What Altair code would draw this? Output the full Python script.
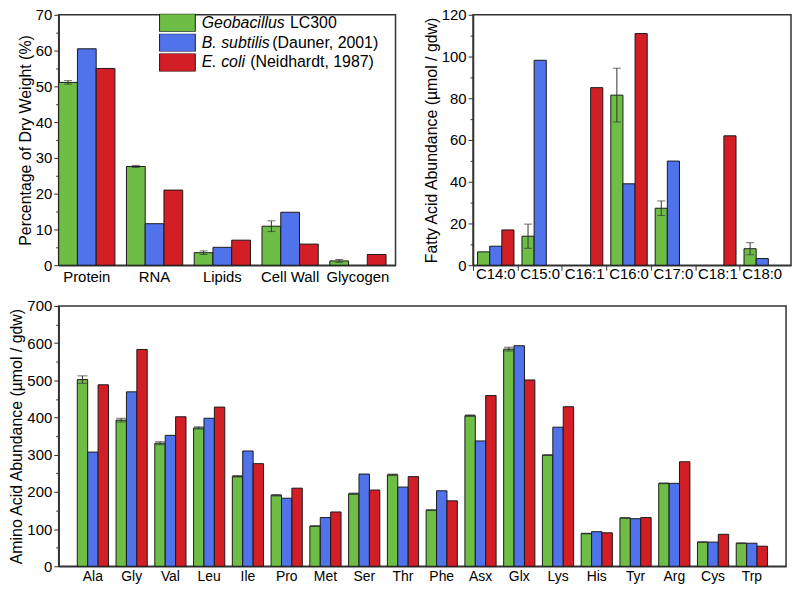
import altair as alt
import pandas as pd

FONT = "Liberation Sans"
GENUS = ["Geobacillus", "B. subtilis", "E. coli"]
SUFFIX = ["LC300", "(Dauner, 2001)", "(Neidhardt, 1987)"]
COLORS = ["#6ebe46", "#5073eb", "#d21e24"]

# ---- Cell composition (% dry weight) ----
comp_cats = ["Protein", "RNA", "Lipids", "Cell Wall", "Glycogen"]
geo_comp = [51.1, 27.6, 3.5, 10.9, 1.2]
geo_comp_err = [0.5, 0.3, 0.5, 1.5, 0.4]
bsub_comp = [60.5, 11.6, 5.0, 14.8, None]
ecoli_comp = [55.0, 21.0, 7.0, 5.9, 3.0]

# ---- Fatty acids (umol / gdw) ----
fa_cats = ["C14:0", "C15:0", "C16:1", "C16:0", "C17:0", "C18:1", "C18:0"]
geo_fa = [6.4, 13.9, None, 81.5, 27.3, None, 7.9]
geo_fa_err = [0, 5.8, 0, 12.9, 3.5, 0, 2.9]
bsub_fa = [9.1, 98.2, None, 39.0, 49.9, None, 3.2]
ecoli_fa = [16.9, None, 85.1, 111.0, None, 62.0, None]

# ---- Amino acids (umol / gdw) ----
aa_cats = ["Ala", "Gly", "Val", "Leu", "Ile", "Pro", "Met", "Ser", "Thr",
           "Phe", "Asx", "Glx", "Lys", "His", "Tyr", "Arg", "Cys", "Trp"]
geo_aa = [502, 393, 331, 372, 242, 191, 108, 195, 246, 151, 405, 584, 299, 88, 130, 223, 65, 62]
geo_aa_err = [10, 5, 4, 3, 2, 2, 1, 2, 2, 1, 2, 5, 1, 1, 1, 1, 1, 1]
bsub_aa = [307, 469, 352, 398, 310, 183, 131, 248, 213, 203, 337, 593, 374, 93, 128, 223, 65, 62]
ecoli_aa = [488, 583, 402, 428, 276, 210, 146, 205, 241, 176, 459, 501, 429, 90, 131, 281, 86, 54]

RECT = "M-1,-0.5L1,-0.5L1,0.5L-1,0.5Z"
NB = "\u00a0"
ZW = "\u200b"
pad_counts = {"LC300": 20, "(Dauner, 2001)": 16, "(Neidhardt, 1987)": 11}
suffix_expr = " : ".join(
    f"datum.label == '{k}' ? '{ZW}{NB * n}{k}'" for k, n in pad_counts.items()
) + " : datum.label"


def long_df(cats, geo, geo_err, bsub, ecoli):
    rows = []
    for i, c in enumerate(cats):
        for s, vals in enumerate([geo, bsub, ecoli]):
            v = vals[i]
            if v is None:
                continue
            e = geo_err[i] if s == 0 else 0
            rows.append(dict(cat=c, series=GENUS[s], suffix=SUFFIX[s], value=v, err=e or 0))
    return pd.DataFrame(rows)


def panel(df, cats, ymax, ystep, ytitle, width, height, pi, po, align,
          lab_size, lab_pad, cap, boundary=False, legend=False):
    half = ystep // 2
    yvals = list(range(0, ymax + 1, half))
    yaxis = alt.Axis(
        values=yvals, title=ytitle, grid=False,
        labelExpr=f"datum.value % {ystep} == 0 ? datum.label : ''",
        tickSize={"condition": {"test": f"datum.value % {ystep} == 0", "value": 5}, "value": 3},
        labelFontSize=15, titleFontSize=16, titlePadding=2, labelPadding=2,
    )
    yscale = alt.Scale(domain=[0, ymax], nice=False, zero=True)
    xscale = alt.Scale(paddingInner=pi, paddingOuter=po, align=align)
    xaxis = alt.Axis(title=None, labelAngle=0, ticks=False, labelFontSize=lab_size,
                     labelPadding=lab_pad)
    xoff = alt.XOffset("series:N", sort=GENUS,
                       scale=alt.Scale(domain=GENUS, paddingInner=0, paddingOuter=0))

    if legend:
        leg1 = alt.Legend(title=None, orient="none", legendX=101, legendY=-1,
                          symbolType=RECT, symbolSize=1296, symbolStrokeColor="#1a1a1a",
                          symbolStrokeWidth=1, symbolOpacity=1, clipHeight=18, rowPadding=2,
                          labelFontSize=16, labelFontStyle="italic", labelOffset=6,
                          padding=0, labelFont=FONT, labelColor="black")
        leg2 = alt.Legend(title=None, orient="none", legendX=101, legendY=-1,
                          symbolType=RECT, symbolSize=1296, symbolStrokeWidth=1,
                          symbolOpacity=0, clipHeight=18, rowPadding=2,
                          labelFontSize=16, labelOffset=6, padding=0, labelFont=FONT,
                          labelColor="black", labelExpr=suffix_expr, labelLimit=400)
    else:
        leg1 = None
        leg2 = None

    base = alt.Chart(df)
    bars = base.mark_bar(strokeWidth=1).encode(
        x=alt.X("cat:N", sort=cats, scale=xscale, axis=xaxis),
        xOffset=xoff,
        y=alt.Y("value:Q", scale=yscale, axis=yaxis),
        color=alt.Color("series:N", scale=alt.Scale(domain=GENUS, range=COLORS), legend=leg1),
        stroke=alt.Stroke("suffix:N", scale=alt.Scale(domain=SUFFIX, range=["#1a1a1a"] * 3),
                          legend=leg2),
    )
    eb = base.transform_filter("datum.err > 0").transform_calculate(
        lo="datum.value - datum.err", hi="datum.value + datum.err")
    if boundary:
        bp = -(pi / 2) / (1 - pi)
        baxis = alt.Axis(title=None, labels=False, ticks=True, domain=False, bandPosition=bp,
                         tickSize=5, orient="bottom")
    else:
        baxis = None
    rule = eb.mark_rule(color="#333333", strokeWidth=1).encode(
        x=alt.X("cat:N", sort=cats, scale=xscale, axis=baxis),
        xOffset=xoff,
        y=alt.Y("lo:Q", scale=yscale, axis=yaxis),
        y2="hi:Q",
    )
    caps = []
    for f in ["lo", "hi"]:
        caps.append(eb.mark_tick(color="#333333", thickness=1, size=cap, orient="horizontal").encode(
            x=alt.X("cat:N", sort=cats, scale=xscale, axis=None),
            xOffset=xoff,
            y=alt.Y(f"{f}:Q", scale=yscale, axis=yaxis),
        ))
    return alt.layer(bars, rule, *caps).resolve_axis(x="independent").properties(
        width=width, height=height)


p1 = panel(long_df(comp_cats, geo_comp, geo_comp_err, bsub_comp, ecoli_comp), comp_cats,
           70, 10, "Percentage of Dry Weight (%)", 339, 252, 0.17, 0.07, 0.0, 15, 4, 8,
           legend=True)
p2 = panel(long_df(fa_cats, geo_fa, geo_fa_err, bsub_fa, ecoli_fa), fa_cats,
           120, 20, "Fatty Acid Abundance (µmol / gdw)", 320, 252, 0.18, 0.17, 0.3, 15, 1, 8,
           boundary=True)
p3 = panel(long_df(aa_cats, geo_aa, geo_aa_err, bsub_aa, ecoli_aa), aa_cats,
           700, 100, "Amino Acid Abundance (µmol / gdw)", 732, 262, 0.195, 0.48, 0.5, 14, 3, 10)

RES = dict(color="independent", stroke="independent", xOffset="independent")

top = alt.hconcat(p1, p2, spacing=26).resolve_scale(**RES).resolve_legend(
    color="independent", stroke="independent")

chart = alt.vconcat(top, p3, spacing=13).resolve_scale(**RES).resolve_legend(
    color="independent", stroke="independent").properties(
    padding={"top": -3, "left": 0, "right": 0, "bottom": 0}).configure(
    font=FONT).configure_view(stroke="#333333", strokeWidth=1.5).configure_axis(
    domainColor="#333333", domainWidth=1.5, tickColor="#333333", labelColor="black",
    titleColor="black", labelFont=FONT, titleFont=FONT, titleFontWeight="normal")

chart.save("out.html", embed_options={"renderer": "svg", "actions": False})
